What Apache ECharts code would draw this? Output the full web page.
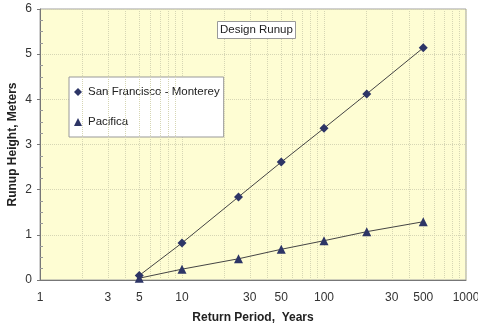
<!DOCTYPE html>
<html>
<head>
<meta charset="utf-8">
<script src="https://cdn.jsdelivr.net/npm/echarts@6/dist/echarts.min.js"></script>
<style>html,body{margin:0;padding:0;background:#fff;}#c{width:478px;height:324px;}</style>
</head>
<body>
<div id="c"></div>
<script>
const periods = [5, 10, 25, 50, 100, 200, 500];
const sfMonterey = [0.10, 0.82, 1.84, 2.61, 3.36, 4.12, 5.14];
const pacifica = [0.04, 0.24, 0.47, 0.68, 0.87, 1.07, 1.29];
const xTickValues = [1, 3, 5, 10, 30, 50, 100, 300, 500, 1000];
const xTickLabels = ['1', '3', '5', '10', '30', '50', '100', '30', '500', '1000'];
const xMinorGrid = [2,3,4,5,6,7,8,9,20,30,40,50,60,70,80,90,200,300,400,500,600,700,800,900];

const chart = echarts.init(document.getElementById('c'), null, {renderer: 'canvas'});
const font = 'Arial, "Liberation Sans", sans-serif';
const markerColor = '#2d3566';
const gridColor = '#d6d6b4';

chart.setOption({
  animation: false,
  backgroundColor: '#ffffff',
  textStyle: {fontFamily: font},
  title: {
    text: 'Design Runup',
    left: 217, top: 21,
    padding: [3, 3, 3, 3],
    backgroundColor: '#ffffff',
    borderColor: '#999999', borderWidth: 1,
    textStyle: {fontFamily: font, fontSize: 11.5, fontWeight: 'normal', color: '#222222'}
  },
  legend: {
    orient: 'vertical',
    left: 69, top: 77,
    padding: [9, 4, 9, 5],
    itemGap: 18,
    itemWidth: 8, itemHeight: 8,
    backgroundColor: '#ffffff',
    borderColor: '#999999', borderWidth: 1,
    textStyle: {fontFamily: font, fontSize: 11.5, color: '#222222', padding: [0, 0, 0, 1]},
    data: [
      {name: 'San Francisco - Monterey', icon: 'diamond'},
      {name: 'Pacifica', icon: 'triangle'}
    ]
  },
  grid: {
    left: 40, right: 12, top: 9, bottom: 44,
    outerBoundsMode: 'none',
    containLabel: false,
    show: true,
    backgroundColor: '#fefdd3',
    borderColor: '#a0a0a0', borderWidth: 1
  },
  xAxis: {
    type: 'log', logBase: 10, min: 1, max: 1000,
    name: 'Return Period,  Years',
    nameLocation: 'middle', nameGap: 32,
    nameMoveOverlap: false,
    nameTextStyle: {fontFamily: font, fontSize: 12, fontWeight: 'bold', color: '#222222'},
    axisLine: {show: true, lineStyle: {color: '#777777', width: 1}},
    axisTick: {show: false},
    axisLabel: {show: false},
    splitLine: {show: true, lineStyle: {color: gridColor, type: 'dotted', width: 1}}
  },
  yAxis: {
    type: 'value', min: 0, max: 6, interval: 1,
    name: 'Runup Height, Meters',
    nameLocation: 'middle', nameGap: 21,
    nameMoveOverlap: false,
    nameTextStyle: {fontFamily: font, fontSize: 12, fontWeight: 'bold', color: '#222222'},
    axisLine: {show: true, lineStyle: {color: '#777777', width: 1}},
    axisTick: {show: true, length: 3, lineStyle: {color: '#777777'}},
    minorTick: {show: true, splitNumber: 4, length: -3, lineStyle: {color: '#999999'}},
    axisLabel: {fontFamily: font, fontSize: 12, color: '#333333', margin: 8},
    splitLine: {show: true, lineStyle: {color: gridColor, type: 'dotted', width: 1}}
  },
  series: [
    {
      name: 'San Francisco - Monterey',
      type: 'line',
      data: periods.map((p, i) => [p, sfMonterey[i]]),
      symbol: 'diamond', symbolSize: 9,
      itemStyle: {color: markerColor},
      lineStyle: {color: '#444444', width: 1},
      z: 5
    },
    {
      name: 'Pacifica',
      type: 'line',
      data: periods.map((p, i) => [p, pacifica[i]]),
      symbol: 'triangle', symbolSize: 9,
      itemStyle: {color: markerColor},
      lineStyle: {color: '#444444', width: 1},
      z: 5
    },
    {
      name: 'minorGrid',
      type: 'line',
      data: [],
      silent: true,
      z: 1,
      markLine: {
        silent: true,
        symbol: ['none', 'none'],
        animation: false,
        label: {show: false},
        lineStyle: {color: gridColor, type: 'dotted', width: 1},
        data: xMinorGrid.map(v => ({xAxis: v}))
      }
    },
    {
      name: 'xLabels',
      type: 'line',
      data: [],
      silent: true,
      z: 1,
      markLine: {
        silent: true,
        symbol: ['none', 'none'],
        animation: false,
        lineStyle: {color: 'rgba(0,0,0,0)', width: 1},
        label: {
          show: true, position: 'start', distance: 12,
          fontFamily: font, fontSize: 12, color: '#333333',
          formatter: p => xTickLabels[p.dataIndex]
        },
        data: xTickValues.map(v => ({xAxis: v}))
      }
    }
  ]
});
</script>
</body>
</html>
